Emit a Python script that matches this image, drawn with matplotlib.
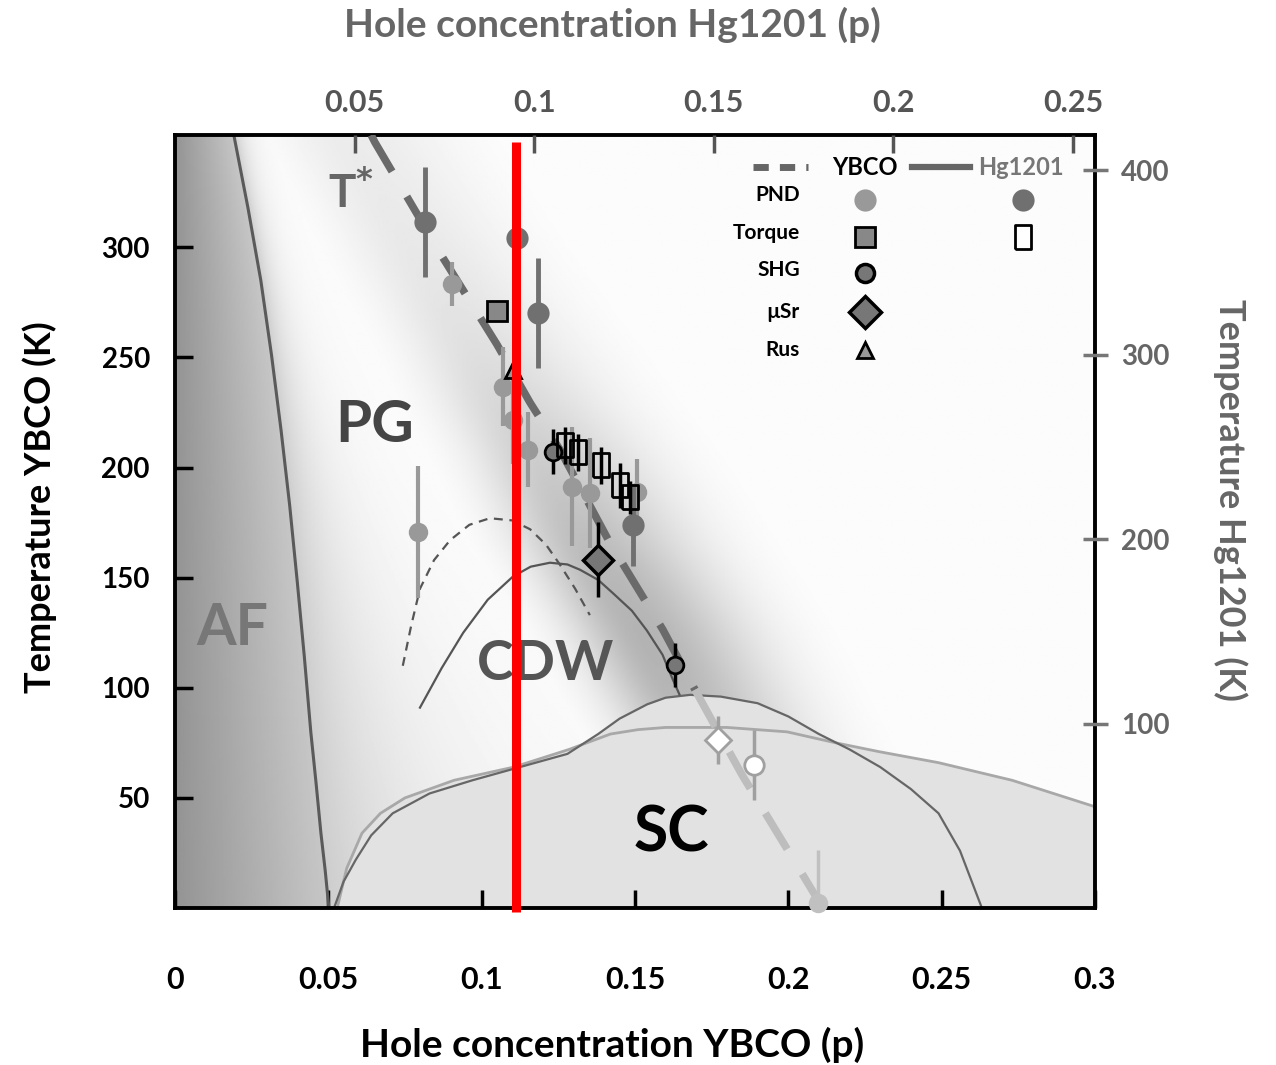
import numpy as np
import matplotlib.pyplot as plt

plt.rcParams['font.family'] = ['Lato', 'DejaVu Sans']
plt.rcParams['font.weight'] = 'bold'

# axis ranges
p_ybco_max = 0.3
t_ybco_max = 351
p_hg_max = 0.2561
t_hg_max = 419

# phase boundaries (YBCO scale)
af_p = [0.0192, 0.0238, 0.0280, 0.0315, 0.0346, 0.0374, 0.0399, 0.0422, 0.0443, 0.0460, 0.0476, 0.0490, 0.0502]
af_t = [351, 318, 285, 251, 217, 183, 148, 114, 80, 57, 34, 17, 0]

tstar_p = [0.0640, 0.0652, 0.0871, 0.1050, 0.1158, 0.1255, 0.1418, 0.1591, 0.1696, 0.1849, 0.2022, 0.2087]
tstar_t = [351, 347.7, 295.9, 255.9, 229.5, 208.2, 165.9, 126.4, 99.1, 60.5, 20.9, 5.9]

cdw_y_p = [0.0743, 0.0770, 0.0799, 0.0845, 0.0897, 0.0960, 0.1027, 0.1100, 0.1158, 0.1210, 0.1255, 0.1305, 0.1353]
cdw_y_t = [110, 128, 145, 158, 167, 174, 177, 176, 172, 165, 156, 145, 133]

cdw_h_p = [0.0799, 0.0870, 0.0940, 0.1020, 0.1102, 0.1160, 0.1223, 0.1280, 0.1321, 0.1380, 0.1428, 0.1490, 0.1539, 0.1590, 0.1624, 0.1645]
cdw_h_t = [91, 109, 125, 140, 150.5, 155, 156.8, 156, 153.6, 149, 143, 135, 126, 115, 103.6, 97]

dome_a_p = [0.052, 0.055, 0.059, 0.064, 0.071, 0.083, 0.097, 0.1125, 0.128, 0.138, 0.145, 0.154, 0.160, 0.168, 0.178, 0.190,
            0.200, 0.210, 0.220, 0.230, 0.240, 0.249, 0.256, 0.263]
dome_a_t = [0.5, 12, 22, 33, 43, 52, 58, 64, 70, 79, 86, 92.5, 95.5, 96.8, 96, 93, 87, 79, 72, 64, 54, 43, 26, 0.5]

dome_b_p = [0.053, 0.056, 0.061, 0.067, 0.075, 0.091, 0.1105, 0.1285, 0.142, 0.151, 0.160, 0.180, 0.1996, 0.2155, 0.2296, 0.249, 0.273, 0.300]
dome_b_t = [0.5, 18, 34, 43, 50, 58, 64, 72, 79, 81, 82, 82, 80, 75, 71, 66, 58, 46]

# YBCO data
pnd_y_p = [0.0903, 0.1070, 0.1102, 0.1151, 0.0792, 0.1295, 0.1353, 0.1507]
pnd_y_t = [283.2, 236.8, 221.8, 208.2, 170.9, 191.4, 188.6, 189.1]
pnd_y_e = [10, 18, 20, 17, 30, 27, 25, 15]

shg_p = [0.1233, 0.1630]
shg_t = [207.3, 110.5]
shg_e = [10, 10]

musr_p = [0.1379]
musr_t = [158.2]
musr_e = [17]

torque_y_p = [0.1050]
torque_y_t = [270.9]

rus_p = [0.1102]
rus_t = [244.5]

od_diamond_p = [0.1771]
od_diamond_t = [76.4]
od_diamond_e = [11]
od_circle_p = [0.1888]
od_circle_t = [65]
od_circle_e = [16]
od_pnd_p = [0.2097]
od_pnd_t = [2.3]

# Hg1201 data
pnd_h_p = [0.0695, 0.0951, 0.1010, 0.1274]
pnd_h_t = [371.8, 363.0, 322.5, 207.4]
pnd_h_e = [30, 0, 30, 22]

torque_h_p = [0.1085, 0.1121, 0.1185, 0.1238, 0.1266]
torque_h_t = [250.8, 247.0, 240.0, 229.1, 222.6]
torque_h_e = [10, 10, 10, 12, 9]

red_p = 0.1112

fig = plt.figure(figsize=(12.76, 10.65), dpi=100)
ax = fig.add_axes([0.1371, 0.1474, 0.7210, 0.7258])

# shaded background
P, T = np.meshgrid(np.linspace(0, p_ybco_max, 700), np.linspace(0, t_ybco_max, 450))
paf = np.interp(T, af_t[::-1], af_p[::-1])
pts = np.interp(T, tstar_t[::-1], tstar_p[::-1])
w = 0.004 + 0.04 * (1 - T / t_ybco_max) ** 2
bg_af = np.where(P < paf, 0.58 + 0.2 * P / paf,
                 0.985 - 0.18 * np.exp(-(P - paf).clip(0) / w))
dp = P - (pts - 0.008)
amp = 0.07 + 0.22 * np.exp(-((T - 120) / 110) ** 2)
shade = np.where(dp >= 0, amp * np.exp(-(dp / 0.035) ** 2), amp * np.exp(-(dp / 0.022) ** 2))
bg = np.minimum(bg_af, 0.995 - shade)
ax.imshow(bg, cmap='gray', vmin=0, vmax=1, origin='lower', aspect='auto',
          extent=[0, p_ybco_max, 0, t_ybco_max], zorder=0, interpolation='bilinear')

# SC domes
grid = np.linspace(0.05, 0.3, 400)
da = np.interp(grid, dome_a_p, dome_a_t, left=0, right=0)
db = np.interp(grid, dome_b_p, dome_b_t, left=0, right=0)
ax.fill_between(grid, 0, np.maximum(da, db), color='#e2e2e2', zorder=1, lw=0)
ax.plot(dome_b_p, dome_b_t, color='#a8a8a8', lw=2, zorder=2)
ax.plot(dome_a_p, dome_a_t, color='#666666', lw=1.6, zorder=2)

ax.plot(af_p, af_t, color='#5a5a5a', lw=2.2, zorder=2)
ax.plot(cdw_y_p, cdw_y_t, color='#555555', lw=1.6, ls=(0, (4, 3)), zorder=2)
ax.plot(cdw_h_p, cdw_h_t, color='#555555', lw=1.6, zorder=2)

ax.plot(tstar_p[:9], tstar_t[:9], color='#6a6a6a', lw=5.5, dashes=(5.5, 3.8), zorder=3)
ax.plot(tstar_p[8:], tstar_t[8:], color='#bdbdbd', lw=5.5, dashes=(5.5, 3.8), zorder=3)

# region labels
ax.text(0.0186, 127, 'AF', fontsize=41, color='#777777', ha='center', va='center', zorder=4)
ax.text(0.0652, 219, 'PG', fontsize=42, color='#454545', ha='center', va='center', zorder=4)
ax.text(0.0575, 325, 'T$^{*}$', fontsize=33, color='#666666', ha='center', va='center', zorder=4)
ax.text(0.1207, 111, 'CDW', fontsize=40, color='#555555', ha='center', va='center', zorder=4)
ax.text(0.162, 34, 'SC', fontsize=45, color='black', ha='center', va='center', zorder=4)

# YBCO points
ax.errorbar(pnd_y_p, pnd_y_t, yerr=pnd_y_e, fmt='o', ms=14, color='#999999', mec='none',
            elinewidth=3, capsize=0, zorder=5)
ax.errorbar(shg_p, shg_t, yerr=shg_e, fmt='o', ms=12, mfc='#777777', mec='black', mew=2,
            ecolor='black', elinewidth=2.5, capsize=0, zorder=6)
ax.errorbar(musr_p, musr_t, yerr=musr_e, fmt='D', ms=15, mfc='#777777', mec='black', mew=2.5,
            ecolor='black', elinewidth=2.5, capsize=0, zorder=6)
ax.plot(torque_y_p, torque_y_t, 's', ms=14, mfc='#888888', mec='black', mew=2, zorder=6)
ax.plot(rus_p, rus_t, '^', ms=11, mfc='#999999', mec='black', mew=2, zorder=6)
ax.errorbar(od_diamond_p, od_diamond_t, yerr=od_diamond_e, fmt='D', ms=13, mfc='white', mec='#a0a0a0',
            mew=2, ecolor='#a0a0a0', elinewidth=2.5, capsize=0, zorder=5)
ax.errorbar(od_circle_p, od_circle_t, yerr=od_circle_e, fmt='o', ms=14, mfc='white', mec='#a0a0a0',
            mew=2, ecolor='#a0a0a0', elinewidth=2.5, capsize=0, zorder=5)
ax.errorbar(od_pnd_p, od_pnd_t, yerr=[[0], [24]], fmt='o', ms=14, color='#c0c0c0', mec='none',
            elinewidth=2.5, capsize=0, zorder=5, clip_on=False)

ax.set_xlim(0, p_ybco_max)
ax.set_ylim(0, t_ybco_max)
ax.set_xticks([0, 0.05, 0.1, 0.15, 0.2, 0.25, 0.3])
ax.set_xticklabels(['0', '0.05', '0.1', '0.15', '0.2', '0.25', '0.3'])
ax.set_yticks([50, 100, 150, 200, 250, 300])
ax.tick_params(axis='x', direction='in', length=13, width=2.5, color='black', pad=42,
               labelsize=22, labelcolor='black')
ax.tick_params(axis='y', direction='in', length=13, width=2.5, color='black', pad=18,
               labelsize=20, labelcolor='black')
for s in ax.spines.values():
    s.set_linewidth(2.8)
    s.set_color('black')

# Hg1201 axes
axh = fig.add_axes(ax.get_position(), frameon=False)
axh.set_xlim(0, p_hg_max)
axh.set_ylim(0, t_hg_max)
axh.xaxis.tick_top()
axh.yaxis.tick_right()
axh.set_xticks([0.05, 0.1, 0.15, 0.2, 0.25])
axh.set_xticklabels(['0.05', '0.1', '0.15', '0.2', '0.25'])
axh.set_yticks([100, 200, 300, 400])
axh.tick_params(axis='x', direction='in', length=13, width=2.5, color='#555555', pad=13,
                labelsize=22, labelcolor='#555555')
axh.tick_params(axis='y', direction='inout', length=18, width=2.5, color='#777777', pad=10,
                labelsize=20, labelcolor='#666666')

axh.errorbar(pnd_h_p, pnd_h_t, yerr=pnd_h_e, fmt='o', ms=16, color='#707070', mec='none',
             elinewidth=3.5, capsize=0, zorder=5)
rect = [(-0.7, -1), (0.7, -1), (0.7, 1), (-0.7, 1), (-0.7, -1)]
axh.errorbar(torque_h_p, torque_h_t, yerr=torque_h_e, fmt='none', ecolor='black',
             elinewidth=2.5, capsize=0, zorder=6)
axh.plot(torque_h_p, torque_h_t, ls='none', marker=rect, ms=17, mfc='none', mec='black', mew=2, zorder=6)

# red marker line
axh.plot([red_p, red_p], [-2, 348], transform=ax.transData, color='red', lw=6.5,
         solid_capstyle='butt', zorder=20, clip_on=False)

# legend table
tr = axh.transAxes
axh.plot([0.628, 0.688], [0.9586, 0.9586], transform=tr, color='#666666', lw=5, dashes=(2.2, 1.6))
axh.plot([0.801, 0.864], [0.9586, 0.9586], transform=tr, color='#666666', lw=4.5)
axh.text(0.750, 0.9586, 'YBCO', transform=tr, fontsize=17, color='black', ha='center', va='center')
axh.text(0.920, 0.9586, 'Hg1201', transform=tr, fontsize=17, color='#777777', ha='center', va='center')
leg_rows = ['PND', 'Torque', 'SHG', 'µSr', 'Rus']
leg_y = [0.922, 0.873, 0.825, 0.771, 0.722]
for name, yy in zip(leg_rows, leg_y):
    axh.text(0.679, yy, name, transform=tr, fontsize=15, color='black', ha='right', va='center')
axh.plot(0.750, 0.916, 'o', transform=tr, ms=16, color='#999999', mec='none')
axh.plot(0.922, 0.916, 'o', transform=tr, ms=16, color='#707070', mec='none')
axh.plot(0.750, 0.868, 's', transform=tr, ms=15, mfc='#888888', mec='black', mew=2)
axh.plot(0.922, 0.868, ls='none', marker=rect, transform=tr, ms=17, mfc='white', mec='black', mew=2)
axh.plot(0.750, 0.821, 'o', transform=tr, ms=13, mfc='#777777', mec='black', mew=2.5)
axh.plot(0.750, 0.771, 'D', transform=tr, ms=16, mfc='#777777', mec='black', mew=2.5)
axh.plot(0.750, 0.722, '^', transform=tr, ms=11, mfc='#999999', mec='black', mew=2)

# axis titles
fig.text(612 / 1276, 1 - 25 / 1065, 'Hole concentration Hg1201 (p)', fontsize=28, color='#666666',
         ha='center', va='center')
fig.text(612 / 1276, 1 - 1045 / 1065, 'Hole concentration YBCO (p)', fontsize=28, color='black',
         ha='center', va='center')
fig.text(40 / 1276, 1 - 507 / 1065, 'Temperature YBCO (K)', fontsize=26, color='black',
         ha='center', va='center', rotation=90)
fig.text(1230 / 1276, 1 - 500 / 1065, 'Temperature Hg1201 (K)', fontsize=26, color='#666666',
         ha='center', va='center', rotation=270)

fig.savefig('out.png', dpi=100, facecolor='white')
